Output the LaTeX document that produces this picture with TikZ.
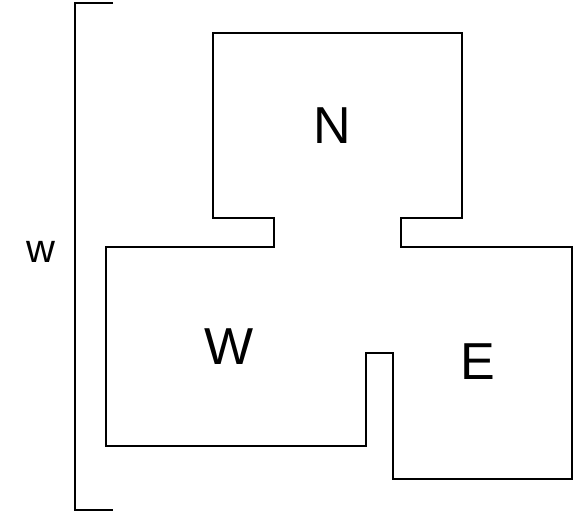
\documentclass[tikz,border=0pt]{standalone}
\usepackage{fontspec}
\setmainfont{Liberation Sans}
\begin{document}
\begin{tikzpicture}[x=1pt,y=-1pt,
  wall/.style={draw=black,line width=1.4pt,line join=miter},
  brk/.style={draw=black,line width=1.9pt},
  big/.style={inner sep=0pt,font=\fontsize{52}{52}\selectfont},
  dim/.style={inner sep=0pt,font=\fontsize{40}{40}\selectfont}]
\useasboundingbox (0,0) rectangle (573,517);
% plan outline
\draw[wall] (213,33) -- (462,33) -- (462,218) -- (401,218) -- (401,247)
  -- (572,247) -- (572,479) -- (393,479) -- (393,353) -- (366,353)
  -- (366,446) -- (106,446) -- (106,247) -- (274,247) -- (274,218)
  -- (213,218) -- cycle;
% dimension bracket
\draw[brk] (113,3) -- (75,3) -- (75,510) -- (113,510);
\node[dim] (w) at (41,252) {w};
\node[big] (N) at (332,125.5) {N};
\node[big] (W) at (229,347) {W};
\node[big] (E) at (478,361.5) {E};
\end{tikzpicture}
\end{document}
